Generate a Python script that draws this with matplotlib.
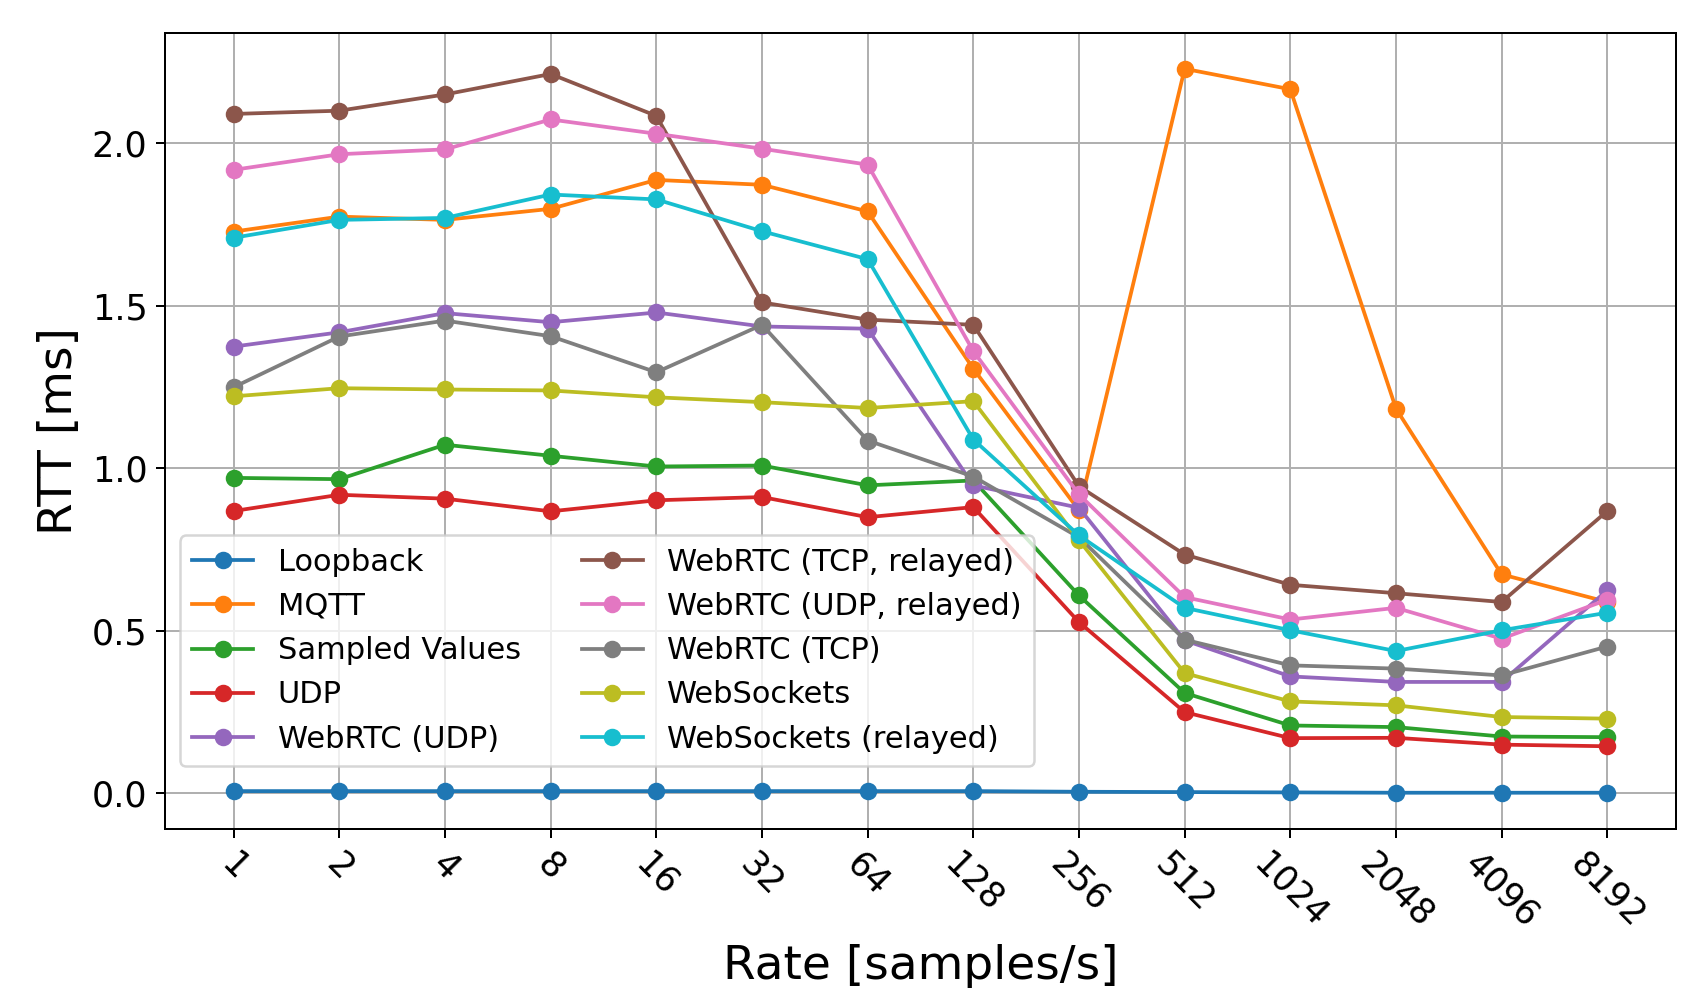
import numpy as np
import matplotlib
matplotlib.use("Agg")
import matplotlib.pyplot as plt

# Sample rates (x categories)
rates = ["1", "2", "4", "8", "16", "32", "64", "128", "256", "512",
         "1024", "2048", "4096", "8192"]

# Mean RTT per transport [ms]
loopback = [0.006, 0.006, 0.006, 0.006, 0.006, 0.006, 0.006, 0.006,
            0.004, 0.003, 0.002, 0.001, 0.001, 0.001]
mqtt = [1.728, 1.774, 1.764, 1.798, 1.887, 1.872, 1.790, 1.306,
        0.870, 2.229, 2.166, 1.183, 0.673, 0.588]
sampled_values = [0.970, 0.966, 1.072, 1.038, 1.005, 1.008, 0.947, 0.962,
                  0.608, 0.308, 0.208, 0.203, 0.174, 0.172]
udp = [0.868, 0.918, 0.906, 0.867, 0.901, 0.911, 0.849, 0.880,
       0.526, 0.249, 0.169, 0.170, 0.149, 0.144]
webrtc_udp = [1.374, 1.418, 1.477, 1.449, 1.479, 1.436, 1.429, 0.947,
              0.878, 0.470, 0.359, 0.342, 0.342, 0.624]
webrtc_tcp_relayed = [2.090, 2.100, 2.150, 2.213, 2.084, 1.510, 1.457, 1.441,
                      0.944, 0.734, 0.641, 0.615, 0.588, 0.868]
webrtc_udp_relayed = [1.918, 1.966, 1.981, 2.073, 2.029, 1.983, 1.934, 1.360,
                      0.919, 0.603, 0.534, 0.570, 0.475, 0.595]
webrtc_tcp = [1.249, 1.405, 1.454, 1.406, 1.295, 1.441, 1.085, 0.974,
              0.787, 0.472, 0.393, 0.383, 0.362, 0.451]
websockets = [1.221, 1.246, 1.242, 1.239, 1.218, 1.203, 1.185, 1.206,
              0.778, 0.369, 0.282, 0.270, 0.234, 0.229]
websockets_relayed = [1.709, 1.764, 1.770, 1.842, 1.827, 1.729, 1.643, 1.088,
                      0.793, 0.570, 0.501, 0.437, 0.501, 0.555]

series = [
    ("Loopback", loopback),
    ("MQTT", mqtt),
    ("Sampled Values", sampled_values),
    ("UDP", udp),
    ("WebRTC (UDP)", webrtc_udp),
    ("WebRTC (TCP, relayed)", webrtc_tcp_relayed),
    ("WebRTC (UDP, relayed)", webrtc_udp_relayed),
    ("WebRTC (TCP)", webrtc_tcp),
    ("WebSockets", websockets),
    ("WebSockets (relayed)", websockets_relayed),
]

fig, ax = plt.subplots(figsize=(9.45, 5.489), dpi=180)
fig.subplots_adjust(left=0.097, right=0.9853, top=0.967, bottom=0.161)

x = np.arange(len(rates))
for name, vals in series:
    ax.plot(x, vals, marker="o", label=name)

ax.set_xticks(x)
ax.set_xticklabels(rates, rotation=-45, ha="center")
ax.tick_params(labelsize=14)
ax.set_xlabel("Rate [samples/s]", fontsize=18.8)
ax.set_ylabel("RTT [ms]", fontsize=18.8)
ax.grid(True)
ax.legend(ncol=2, fontsize=12.2, loc="lower left", bbox_to_anchor=(0, 0.06))

fig.savefig("out.png", dpi=180)
